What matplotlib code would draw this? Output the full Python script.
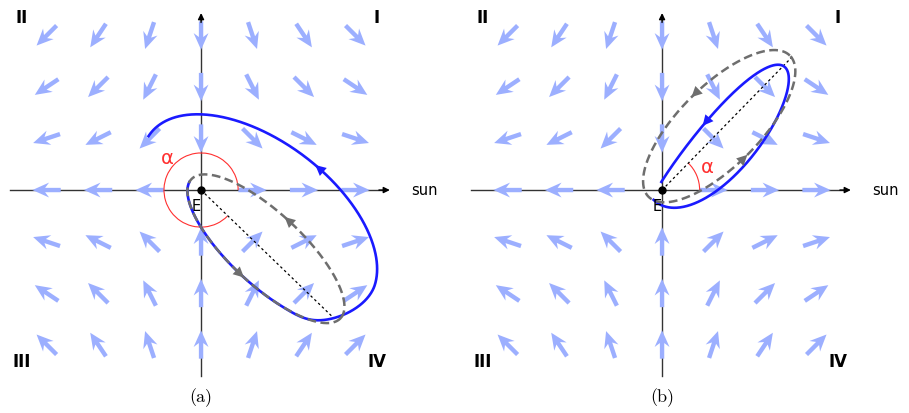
import numpy as np
import matplotlib.pyplot as plt
from matplotlib.patches import Arc

# tidal field sample grid (Earth at the origin, sun along +x)
grid = np.arange(-3, 4)
arrow_len = 0.55

quad_labels = ["I", "II", "III", "IV"]
quad_xy = [(3.41, 3.37), (-3.48, 3.37), (-3.48, -3.32), (3.42, -3.32)]

# ellipses: centre x, centre y, semi-major, semi-minor, tilt of major axis (deg)
# panel (a): orbit grows
gray_a = (1.26, -1.14, 1.98, 0.70, -43.0)
blue_a_end = (1.13, -0.50, 2.65, 1.45, -37.0)
phase_a = -0.43
apo_a = (2.54, -2.45)
alpha_a = (0.0, 315.0)
# panel (b): orbit shrinks
gray_b = (1.11, 1.24, 1.94, 0.78, 45.0)
blue_b_start = (1.145, 1.117, 1.85, 1.00, 45.0)
blue_b_end = (1.082, 1.110, 1.75, 0.10, 45.0)
apo_b = (2.54, 2.60)
alpha_b = (0.0, 46.0)

BLUE = "#1a1aff"
GRAY = "#6e6e6e"
FIELD = "#9cafff"
RED = "#ff3030"


def ellipse_pts(p, E):
    cx, cy, a, b, ang = p
    t = np.radians(ang)
    x = cx + a * np.cos(E) * np.cos(t) - b * np.sin(E) * np.sin(t)
    y = cy + a * np.cos(E) * np.sin(t) + b * np.sin(E) * np.cos(t)
    return x, y


def head(ax, x, y, i, color, size=19):
    ax.annotate("", xy=(x[i + 2], y[i + 2]), xytext=(x[i - 2], y[i - 2]),
                arrowprops=dict(arrowstyle="-|>", color=color, lw=0,
                                mutation_scale=size, shrinkA=0, shrinkB=0),
                zorder=6)


def base(ax, caption):
    ax.set_xlim(-3.90, 4.83)
    ax.set_ylim(-4.33, 3.71)
    ax.set_aspect("equal")
    ax.axis("off")

    # axes with arrows
    ax.plot([-3.71, 3.6], [0, 0], color="#333333", lw=1, zorder=1)
    ax.plot([0, 0], [-3.61, 3.4], color="#333333", lw=1, zorder=1)
    ax.annotate("", xy=(3.72, 0), xytext=(3.4, 0),
                arrowprops=dict(arrowstyle="-|>", color="k", lw=1, mutation_scale=9))
    ax.annotate("", xy=(0, 3.49), xytext=(0, 3.2),
                arrowprops=dict(arrowstyle="-|>", color="k", lw=1, mutation_scale=9))

    X, Y = np.meshgrid(grid, grid)
    X = X.ravel().astype(float)
    Y = Y.ravel().astype(float)
    keep = (X != 0) | (Y != 0)
    X, Y = X[keep], Y[keep]
    U, V = X, -Y
    n = np.hypot(U, V)
    ax.quiver(X, Y, U / n * arrow_len, V / n * arrow_len, pivot="middle",
              units="xy", scale=1, width=0.085, headwidth=3.4, headlength=3.8,
              headaxislength=2.9, color=FIELD, zorder=2)

    for s, (qx, qy) in zip(quad_labels, quad_xy):
        ax.text(qx, qy, s, fontsize=12, fontweight="bold", ha="center", va="center")
    ax.text(4.33, 0.02, "sun", fontsize=10.5, ha="center", va="center")
    ax.text(0.0, -4.02, caption, fontsize=13, family="cmr10", ha="center", va="center")

    ax.plot(0, 0, "o", color="k", ms=5, zorder=8)
    ax.text(-0.1, -0.31, "E", fontsize=10.5, ha="center", va="center", zorder=7)


fig = plt.figure(figsize=(9.09, 4.14), dpi=100)
ax1 = fig.add_axes([0, 0, 450 / 909, 1])
ax2 = fig.add_axes([461 / 909, 0, 450 / 909, 1])

# ---- (a) ----
base(ax1, "(a)")
ax1.add_patch(Arc((0, 0), 1.44, 1.44, theta1=alpha_a[0], theta2=alpha_a[1],
                  color=RED, lw=0.8, zorder=3))
ax1.text(-0.66, 0.63, "α", color=RED, fontsize=14, ha="center", va="center")
ax1.plot([0, apo_a[0]], [0, apo_a[1]], color="k", lw=0.9, dashes=(2, 2.2), zorder=3)

E = np.linspace(np.pi + 0.1, 3 * np.pi + 0.47, 800)
w = np.clip((E - 1.65 * np.pi) / (0.55 * np.pi), 0, 1)
w = w * w * (3 - 2 * w)
gx, gy = ellipse_pts(gray_a, E)
bx, by = ellipse_pts(blue_a_end, E + phase_a)
ax_, ay_ = (1 - w) * gx + w * bx, (1 - w) * gy + w * by
ax1.plot(ax_, ay_, color=BLUE, lw=1.9, zorder=4)
head(ax1, ax_, ay_, np.argmin(abs(E - (2 * np.pi + 1.88))), BLUE)

Eg = np.linspace(0, 2 * np.pi, 500)
gx, gy = ellipse_pts(gray_a, Eg)
ax1.plot(gx, gy, color=GRAY, lw=1.8, dashes=(3.5, 1.8), zorder=5)
head(ax1, gx, gy, np.argmin(abs(Eg - 4.72)), GRAY)
head(ax1, gx, gy, np.argmin(abs(Eg - 1.62)), GRAY)

# ---- (b) ----
base(ax2, "(b)")
ax2.add_patch(Arc((0, 0), 1.46, 1.46, theta1=alpha_b[0], theta2=alpha_b[1],
                  color=RED, lw=0.8, zorder=3))
ax2.text(0.87, 0.46, "α", color=RED, fontsize=14, ha="center", va="center")
ax2.plot([0, apo_b[0]], [0, apo_b[1]], color="k", lw=0.9, dashes=(2, 2.2), zorder=3)

E = np.linspace(np.pi, 3 * np.pi - 0.6, 600)
w = (E - np.pi) / (2 * np.pi)
sx, sy = ellipse_pts(blue_b_start, E)
fx, fy = ellipse_pts(blue_b_end, E)
bx_, by_ = (1 - w) * sx + w * fx, (1 - w) * sy + w * fy
ax2.plot(bx_, by_, color=BLUE, lw=1.9, zorder=4)
head(ax2, bx_, by_, np.argmin(abs(E - (2.5 * np.pi + 0.05))), BLUE)

gx, gy = ellipse_pts(gray_b, Eg)
ax2.plot(gx, gy, color=GRAY, lw=1.8, dashes=(3.5, 1.8), zorder=5)
head(ax2, gx, gy, np.argmin(abs(Eg - 1.54)), GRAY)
head(ax2, gx, gy, np.argmin(abs(Eg - 4.68)), GRAY)

fig.savefig("out.png", dpi=100)
